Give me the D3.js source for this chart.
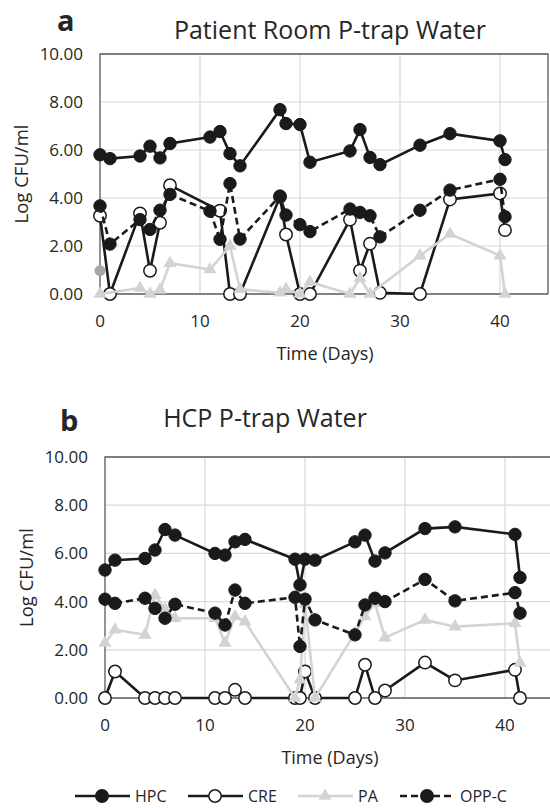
<!DOCTYPE html>
<html>
<head>
<meta charset="utf-8">
<script src="https://cdn.jsdelivr.net/npm/d3@7"></script>
<style>
  body { margin: 0; background: #fff; }
  text { font-family: "Open Sans", sans-serif; fill: #262626; }
</style>
</head>
<body>
<svg width="550" height="809"></svg>
<script>
// panel a - patient room
var daysA = [0, 1, 4, 5, 6, 7, 11, 12, 13, 14, 18, 18.6, 20, 21, 25, 26, 27, 28, 32, 35, 40, 40.5]
var hpcA = [5.8, 5.64, 5.75, 6.16, 5.67, 6.27, 6.54, 6.77, 5.85, 5.34, 7.68, 7.1, 7.06, 5.49, 5.96, 6.85, 5.69, 5.39, 6.2, 6.68, 6.38, 5.6]
var oppA = [3.67, 2.08, 3.1, 2.69, 3.49, 4.15, 3.45, 2.28, 4.6, 2.29, 4.08, 3.29, 2.89, 2.6, 3.54, 3.4, 3.26, 2.38, 3.49, 4.33, 4.78, 3.22]
var creDaysA = [0, 1, 4, 5, 6, 7, 12, 13, 14, 18, 18.6, 20, 21, 25, 26, 27, 28, 32, 35, 40, 40.5]
var creA = [3.26, 0, 3.36, 0.97, 2.97, 4.53, 3.47, 0, 0, 4.05, 2.48, 0, 0, 3.1, 0.97, 2.1, 0.05, 0, 3.94, 4.19, 2.66]
var paDaysA = [0, 4, 5, 6, 7, 11, 13, 14, 18, 18.6, 20, 21, 25, 26, 27, 32, 35, 40, 40.5]
var paA = [0, 0.25, 0, 0.17, 1.28, 1.02, 2.0, 0.2, 0.05, 0.2, 0, 0.5, 0, 0.65, 0, 1.6, 2.5, 1.6, 0]
var grayDotA = [[0, 0.97]]

// panel b - HCP
var daysB = [0, 1, 4, 5, 6, 7, 11, 12, 13, 14, 19, 19.5, 20, 21, 25, 26, 27, 28, 32, 35, 41, 41.5]
var hpcB = [5.31, 5.72, 5.79, 6.14, 6.99, 6.76, 6.0, 5.93, 6.48, 6.58, 5.76, 4.69, 5.76, 5.72, 6.48, 6.76, 5.68, 6.02, 7.03, 7.1, 6.79, 5.0]
var creB = [0, 1.1, 0, 0, 0, 0, 0, 0, 0.34, 0, 0, 0, 1.1, 0, 0, 1.38, 0, 0.31, 1.47, 0.73, 1.17, 0]
var paB = [2.28, 2.83, 2.62, 4.27, 3.7, 3.31, 3.31, 2.28, 3.38, 3.17, 0, 0.76, 3.9, 0, 2.7, 3.38, 3.93, 2.5, 3.24, 2.96, 3.1, 1.45]
var oppB = [4.1, 3.93, 4.14, 3.72, 3.31, 3.89, 3.52, 3.03, 4.48, 3.93, 4.18, 2.14, 4.1, 3.24, 2.62, 3.86, 4.14, 4.0, 4.92, 4.03, 4.37, 3.52]

var xTicks = [0, 10, 20, 30, 40]
var yTicks = [0, 2, 4, 6, 8, 10]
var seriesNames = ["HPC", "CRE", "PA", "OPP-C"]

var svg = d3.select("svg")
var black = "#1a1a1a",
	gray = "#d3d3d3"

function zip(xs, ys) {
	return xs.map(function (d, i) { return [d, ys[i]] })
}

function drawPanel(p) {
	var x = d3.scaleLinear().domain([0, 45]).range([p.left, p.left + 450])
	var y = d3.scaleLinear().domain([0, 10]).range([p.bottom, p.top])
	var g = svg.append("g")

	// grid
	g.selectAll(".hgrid").data(yTicks.slice(1)).enter().append("line")
		.attr("x1", p.left).attr("x2", p.right)
		.attr("y1", y).attr("y2", y)
		.attr("stroke", "#d9d9d9").attr("stroke-width", 1.2)
	g.selectAll(".vgrid").data(xTicks.slice(1)).enter().append("line")
		.attr("x1", x).attr("x2", x)
		.attr("y1", p.top).attr("y2", p.bottom)
		.attr("stroke", "#d9d9d9").attr("stroke-width", 1.2)

	// frame
	g.append("path")
		.attr("d", "M" + p.right + "," + p.bottom + "V" + p.top + "H" + p.left + "V" + p.bottom + "H" + p.right)
		.attr("fill", "none").attr("stroke", "#595959").attr("stroke-width", 1.3)

	// tick labels
	g.selectAll(".ylab").data(yTicks).enter().append("text")
		.attr("x", p.left - 17).attr("y", y).attr("dy", "0.35em")
		.attr("text-anchor", "end").attr("font-size", 17)
		.text(function (d) { return d.toFixed(2) })
	g.selectAll(".xlab").data(xTicks).enter().append("text")
		.attr("x", x).attr("y", p.bottom + 27).attr("dy", "0.35em")
		.attr("text-anchor", "middle").attr("font-size", 17)
		.text(function (d) { return d })

	g.append("text")
		.attr("x", (p.left + p.left + 450) / 2).attr("y", p.bottom + 60).attr("dy", "0.35em")
		.attr("text-anchor", "middle").attr("font-size", 18)
		.text("Time (Days)")
	g.append("text")
		.attr("transform", "translate(" + p.ytitleX + "," + (p.top + p.bottom) / 2 + ") rotate(-90)")
		.attr("dy", "0.35em")
		.attr("text-anchor", "middle").attr("font-size", 18.5)
		.text("Log CFU/ml")

	g.append("text")
		.attr("x", p.letterX).attr("y", p.letterY)
		.attr("font-size", 29).attr("font-weight", "bold").attr("fill", "#111")
		.text(p.letter)
	g.append("text")
		.attr("x", p.titleX).attr("y", p.titleY)
		.attr("text-anchor", "middle").attr("font-size", 25)
		.text(p.title)

	var line = d3.line().x(function (d) { return x(d[0]) }).y(function (d) { return y(d[1]) })
	var tri = d3.symbol().type(d3.symbolTriangle).size(75)

	// HPC
	var hpc = zip(p.days, p.hpc)
	g.append("path").datum(hpc).attr("d", line)
		.attr("fill", "none").attr("stroke", black).attr("stroke-width", 2.6)
	g.selectAll(".hpc").data(hpc).enter().append("circle")
		.attr("cx", function (d) { return x(d[0]) }).attr("cy", function (d) { return y(d[1]) })
		.attr("r", 6.2).attr("fill", black).attr("stroke", black)

	// gray extra marker
	g.selectAll(".gdot").data(p.grayDot).enter().append("circle")
		.attr("cx", function (d) { return x(d[0]) }).attr("cy", function (d) { return y(d[1]) })
		.attr("r", 5.5).attr("fill", "#a6a6a6")

	// CRE
	var cre = zip(p.creDays, p.cre)
	g.append("path").datum(cre).attr("d", line)
		.attr("fill", "none").attr("stroke", black).attr("stroke-width", 2.6)
	g.selectAll(".cre").data(cre).enter().append("circle")
		.attr("cx", function (d) { return x(d[0]) }).attr("cy", function (d) { return y(d[1]) })
		.attr("r", 6.2).attr("fill", "#fff").attr("stroke", black).attr("stroke-width", 1.5)

	// PA
	var pa = zip(p.paDays, p.pa)
	g.append("path").datum(pa).attr("d", line)
		.attr("fill", "none").attr("stroke", gray).attr("stroke-width", 2.6)
	g.selectAll(".pa").data(pa).enter().append("path")
		.attr("d", tri)
		.attr("transform", function (d) { return "translate(" + x(d[0]) + "," + y(d[1]) + ")" })
		.attr("fill", gray)

	// OPP-C
	var opp = zip(p.days, p.opp)
	g.append("path").datum(opp).attr("d", line)
		.attr("fill", "none").attr("stroke", black).attr("stroke-width", 2.6)
		.attr("stroke-dasharray", "7,4")
	g.selectAll(".opp").data(opp).enter().append("circle")
		.attr("cx", function (d) { return x(d[0]) }).attr("cy", function (d) { return y(d[1]) })
		.attr("r", 6.2).attr("fill", black).attr("stroke", black)
}

drawPanel({
	left: 100, right: 548, top: 54, bottom: 294, ytitleX: 22,
	letter: "a", letterX: 57, letterY: 31,
	title: "Patient Room P-trap Water", titleX: 330, titleY: 39,
	days: daysA, hpc: hpcA, opp: oppA, creDays: creDaysA, cre: creA,
	paDays: paDaysA, pa: paA, grayDot: grayDotA
})
drawPanel({
	left: 105, right: 560, top: 457, bottom: 698, ytitleX: 27,
	letter: "b", letterX: 60, letterY: 431,
	title: "HCP P-trap Water", titleX: 265, titleY: 427,
	days: daysB, hpc: hpcB, opp: oppB, creDays: daysB, cre: creB,
	paDays: daysB, pa: paB, grayDot: []
})

// legend
var legendX = [75, 188, 298, 400]
var lg = svg.append("g").attr("transform", "translate(0,796)")
var items = lg.selectAll(".item").data(seriesNames).enter().append("g")
	.attr("transform", function (d, i) { return "translate(" + legendX[i] + ",0)" })
items.append("line")
	.attr("x1", 0).attr("x2", 55)
	.attr("stroke", function (d) { return d === "PA" ? gray : black })
	.attr("stroke-width", 2.6)
	.attr("stroke-dasharray", function (d) { return d === "OPP-C" ? "7,4" : null })
items.each(function (d) {
	var it = d3.select(this)
	if (d === "PA") {
		it.append("path").attr("d", d3.symbol().type(d3.symbolTriangle).size(75))
			.attr("transform", "translate(27,0)").attr("fill", gray)
	} else {
		it.append("circle").attr("cx", 27).attr("r", 6.2)
			.attr("fill", d === "CRE" ? "#fff" : black)
			.attr("stroke", black).attr("stroke-width", 1.5)
	}
})
items.append("text")
	.attr("x", 60).attr("dy", "0.35em").attr("font-size", 16)
	.text(function (d) { return d })
</script>
</body>
</html>
